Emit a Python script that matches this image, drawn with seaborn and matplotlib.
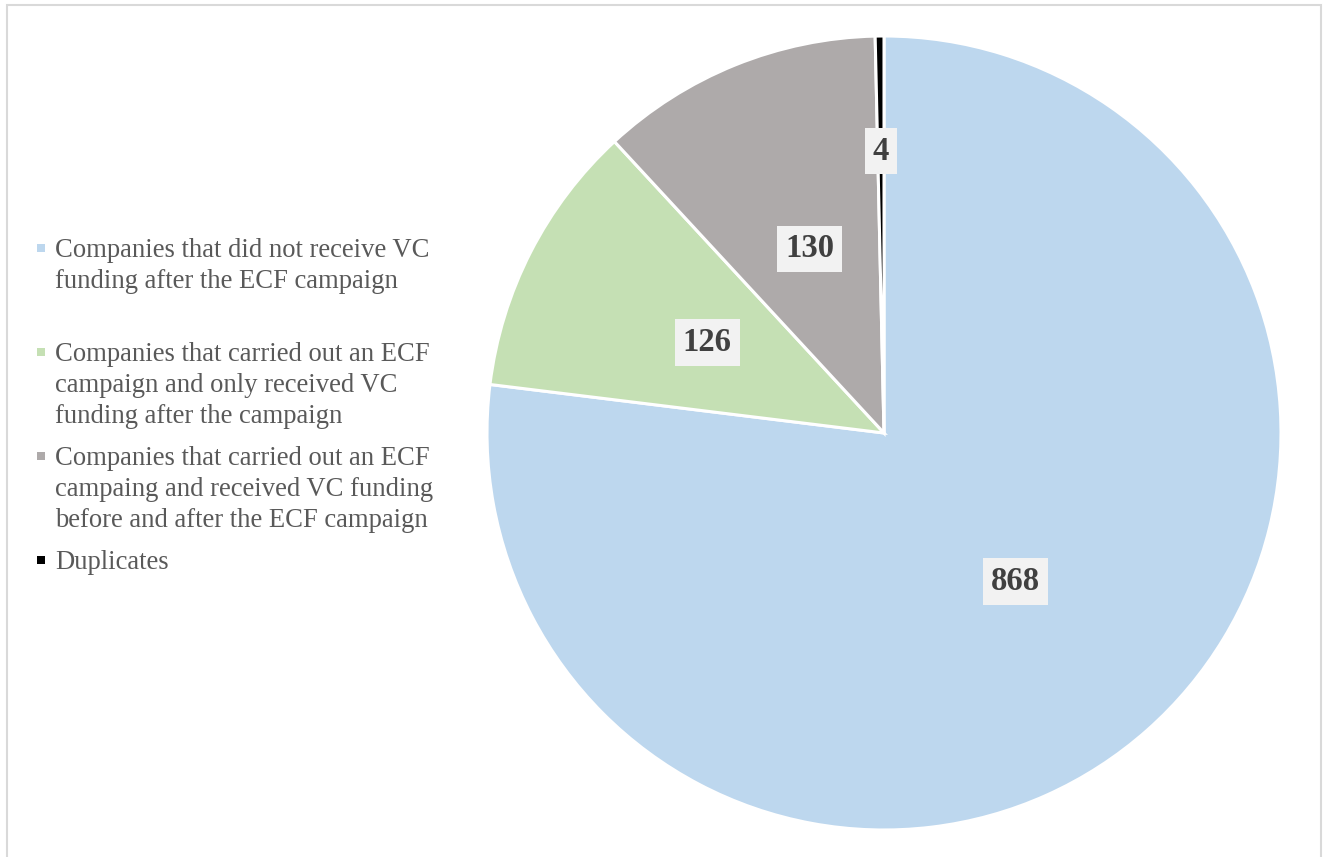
import numpy as np
import matplotlib
matplotlib.use("Agg")
import matplotlib.pyplot as plt
from matplotlib.patches import Rectangle
import seaborn as sns

# Company groups and their counts
categories = [
    "Companies that did not receive VC\nfunding after the ECF campaign",
    "Companies that carried out an ECF\ncampaign and only received VC\nfunding after the campaign",
    "Companies that carried out an ECF\ncampaing and received VC funding\nbefore and after the ECF campaign",
    "Duplicates",
]
counts = [868, 126, 130, 4]
colors = sns.color_palette(["#BDD7EE", "#C5E0B4", "#AEAAAA", "#000000"])

sns.set_theme(style="white")
plt.rcParams["font.family"] = ["Liberation Serif", "DejaVu Serif"]

W, H = 1328, 857
fig = plt.figure(figsize=(W / 100, H / 100), dpi=100)
fig.patch.set_facecolor("white")

# Pie area: centre (884, 433) px, radius 397 px
cx, cy, r = 884, 433, 397
ax = fig.add_axes([(cx - r) / W, (H - cy - r) / H, 2 * r / W, 2 * r / H])
wedges, _ = ax.pie(
    counts,
    colors=colors,
    startangle=90,
    counterclock=False,
    wedgeprops=dict(edgecolor="white", linewidth=2.2),
)
ax.set_xlim(-1, 1)
ax.set_ylim(-1, 1)
ax.set_aspect("equal")
ax.axis("off")

# Value labels inside the slices
label_dist = [0.5, 0.5, 0.5, 0.71]
for w, v, d in zip(wedges, counts, label_dist):
    ang = np.deg2rad((w.theta1 + w.theta2) / 2)
    ax.text(
        d * np.cos(ang), d * np.sin(ang), f"{v}",
        ha="center", va="center", fontsize=23.5, fontweight="bold",
        color="#404040",
        bbox=dict(boxstyle="square,pad=0.24", facecolor="#F2F2F2", edgecolor="none"),
    )

# Legend on the left: one slot per entry, marker beside the first line
slot_top = 248
slot_h = 104
for i, (lab, col) in enumerate(zip(categories, colors)):
    y = slot_top + i * slot_h
    fig.add_artist(Rectangle((37 / W, (H - y - 4) / H), 8 / W, 8 / H,
                             transform=fig.transFigure, facecolor=col,
                             edgecolor="none"))
    fig.text(55 / W, (H - y + 10) / H, lab, ha="left", va="top",
             fontsize=19.2, color="#595959", linespacing=1.31,
             transform=fig.transFigure)

# Outer chart frame
fig.add_artist(Rectangle((7 / W, -0.05), (1321 - 7) / W, (H - 5) / H + 0.05,
                         transform=fig.transFigure, fill=False,
                         edgecolor="#D9D9D9", linewidth=1.5))

fig.savefig("out.png", dpi=100)
